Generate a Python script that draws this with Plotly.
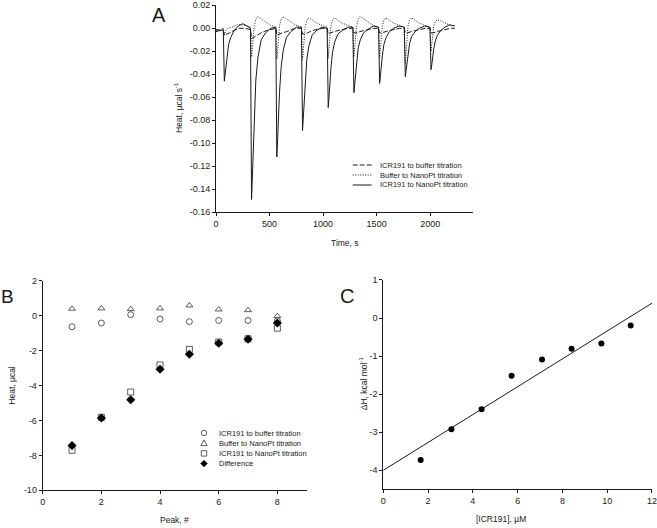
import plotly.graph_objects as go

W, H = 657, 528

# ---------------- Panel A : raw ITC traces (time in s, heat in µcal/s) ----------------
a_time_icr_buffer = [0, 30, 60, 68, 78, 96, 126, 166, 216, 260, 300, 322,
                     332, 350, 380, 420, 470, 520, 562,
                     568, 586, 616, 656, 706, 756, 798,
                     808, 826, 856, 896, 946, 996, 1038,
                     1048, 1066, 1096, 1136, 1186, 1236, 1278,
                     1288, 1306, 1336, 1376, 1426, 1476, 1518,
                     1528, 1546, 1576, 1616, 1666, 1716, 1758,
                     1768, 1786, 1816, 1856, 1906, 1956, 1998,
                     2008, 2026, 2056, 2096, 2146, 2196, 2230]
a_heat_icr_buffer = [-0.003, -0.002, -0.002, -0.002, -0.006, -0.005, -0.004, -0.002, 0.000, 0.000, -0.001, -0.001,
                     -0.009, -0.008, -0.006, -0.004, -0.002, -0.001, 0.000,
                     -0.006, -0.005, -0.004, -0.003, -0.001, 0.000, 0.000,
                     -0.005, -0.005, -0.004, -0.002, -0.001, 0.000, 0.000,
                     -0.005, -0.004, -0.003, -0.002, -0.001, 0.000, 0.000,
                     -0.004, -0.004, -0.003, -0.002, -0.001, 0.000, 0.000,
                     -0.004, -0.004, -0.003, -0.002, -0.001, 0.000, 0.000,
                     -0.004, -0.004, -0.003, -0.002, -0.001, 0.000, 0.000,
                     -0.004, -0.004, -0.003, -0.002, -0.001, 0.000, 0.000]

a_time_buffer_nanopt = [0, 30, 60, 68, 78, 90, 110, 150, 200, 250, 290, 322,
                        332, 340, 347, 357, 372, 387, 412, 452, 502, 558,
                        568, 576, 583, 593, 608, 623, 648, 688, 738, 798,
                        808, 816, 823, 833, 848, 863, 888, 928, 978, 1038,
                        1048, 1056, 1063, 1073, 1088, 1103, 1128, 1168, 1218, 1278,
                        1288, 1296, 1303, 1313, 1328, 1343, 1368, 1408, 1458, 1518,
                        1528, 1536, 1543, 1553, 1568, 1583, 1608, 1648, 1698, 1758,
                        1768, 1776, 1783, 1793, 1808, 1823, 1848, 1888, 1938, 1998,
                        2008, 2016, 2023, 2033, 2048, 2063, 2088, 2128, 2178, 2230]
a_heat_buffer_nanopt = [-0.001, -0.002, 0.000, 0.000, -0.006, -0.002, 0.000, 0.001, 0.003, 0.003, 0.002, 0.001,
                        -0.025, -0.018, -0.008, 0.002, 0.008, 0.010, 0.009, 0.006, 0.003, 0.001,
                        -0.027, -0.019, -0.008, 0.002, 0.008, 0.010, 0.009, 0.006, 0.003, 0.001,
                        -0.027, -0.019, -0.008, 0.002, 0.007, 0.009, 0.008, 0.005, 0.003, 0.001,
                        -0.026, -0.018, -0.008, 0.002, 0.007, 0.009, 0.008, 0.005, 0.003, 0.001,
                        -0.025, -0.018, -0.007, 0.002, 0.008, 0.010, 0.009, 0.006, 0.003, 0.001,
                        -0.026, -0.018, -0.008, 0.002, 0.007, 0.009, 0.008, 0.005, 0.003, 0.001,
                        -0.031, -0.021, -0.009, 0.002, 0.007, 0.009, 0.008, 0.005, 0.003, 0.001,
                        -0.020, -0.014, -0.006, 0.002, 0.006, 0.007, 0.007, 0.005, 0.003, 0.002]

a_time_icr_nanopt = [0, 20, 40, 60, 68, 78, 86, 93, 103, 118, 138, 168, 208, 250, 290, 322,
                     332, 340, 347, 357, 372, 392, 422, 462, 510, 558,
                     568, 576, 583, 593, 608, 628, 658, 698, 750, 798,
                     808, 816, 823, 833, 848, 868, 898, 938, 990, 1038,
                     1048, 1056, 1063, 1073, 1088, 1108, 1138, 1178, 1230, 1278,
                     1288, 1296, 1303, 1313, 1328, 1348, 1378, 1418, 1470, 1518,
                     1528, 1536, 1543, 1553, 1568, 1588, 1618, 1658, 1710, 1758,
                     1768, 1776, 1783, 1793, 1808, 1828, 1858, 1898, 1950, 1998,
                     2008, 2016, 2023, 2033, 2048, 2068, 2098, 2138, 2180, 2230]
a_heat_icr_nanopt = [-0.002, -0.001, -0.002, -0.001, -0.001, -0.046, -0.039, -0.032, -0.023, -0.014, -0.008, -0.002, 0.002, 0.004, 0.002, 0.000,
                     -0.149, -0.127, -0.103, -0.075, -0.045, -0.025, -0.010, -0.004, 0.000, 0.001,
                     -0.112, -0.095, -0.077, -0.056, -0.034, -0.019, -0.008, -0.003, 0.001, 0.001,
                     -0.089, -0.076, -0.061, -0.045, -0.027, -0.015, -0.006, -0.002, 0.001, 0.000,
                     -0.069, -0.059, -0.048, -0.035, -0.021, -0.012, -0.005, -0.002, 0.001, 0.001,
                     -0.056, -0.048, -0.039, -0.028, -0.017, -0.010, -0.004, -0.001, 0.002, 0.001,
                     -0.048, -0.041, -0.033, -0.024, -0.014, -0.008, -0.003, 0.000, 0.002, 0.001,
                     -0.042, -0.036, -0.029, -0.021, -0.013, -0.007, -0.003, 0.000, 0.002, 0.001,
                     -0.036, -0.031, -0.025, -0.018, -0.011, -0.006, -0.002, 0.001, 0.003, 0.002]

a_xticks = [0, 500, 1000, 1500, 2000]
a_xticklabels = ["0", "500", "1000", "1500", "2000"]
a_yticks = [-0.16, -0.14, -0.12, -0.10, -0.08, -0.06, -0.04, -0.02, 0.00, 0.02]
a_yticklabels = ["-0.16", "-0.14", "-0.12", "-0.10", "-0.08", "-0.06", "-0.04", "-0.02", "0.00", "0.02"]

# ---------------- Panel B : integrated heats per peak (µcal) ----------------
b_peak = [1, 2, 3, 4, 5, 6, 7, 8]
b_icr_buffer = [-0.63, -0.42, 0.06, -0.19, -0.34, -0.27, -0.27, -0.29]
b_buffer_nanopt = [0.40, 0.42, 0.38, 0.42, 0.59, 0.36, 0.32, -0.02]
b_icr_nanopt = [-7.71, -5.82, -4.37, -2.82, -1.93, -1.51, -1.32, -0.71]
b_difference = [-7.44, -5.86, -4.81, -3.07, -2.21, -1.58, -1.35, -0.42]
b_xticks = [0, 2, 4, 6, 8]
b_xticklabels = ["0", "2", "4", "6", "8"]
b_yticks = [-10, -8, -6, -4, -2, 0, 2]
b_yticklabels = ["-10", "-8", "-6", "-4", "-2", "0", "2"]

# ---------------- Panel C : enthalpy vs ICR191 concentration ----------------
c_conc = [1.67, 3.04, 4.39, 5.73, 7.09, 8.41, 9.74, 11.05]
c_dh = [-3.73, -2.92, -2.40, -1.52, -1.09, -0.81, -0.67, -0.20]
c_fit_x = [0, 12]
c_fit_y = [-4.00, 0.39]
c_xticks = [0, 2, 4, 6, 8, 10, 12]
c_xticklabels = ["0", "2", "4", "6", "8", "10", "12"]
c_yticks = [-4, -3, -2, -1, 0, 1]
c_yticklabels = ["-4", "-3", "-2", "-1", "0", "1"]

FONT = "Liberation Sans, Arial, sans-serif"
INK = "#1a1a1a"


def X(px):
    return px / W


def Y(py):
    return 1 - py / H


fig = go.Figure()

# Panel A traces
fig.add_trace(go.Scatter(x=a_time_icr_buffer, y=a_heat_icr_buffer, mode="lines",
                         line=dict(color=INK, width=1, dash="5px,2px"),
                         name="ICR191 to buffer titration", xaxis="x", yaxis="y"))
fig.add_trace(go.Scatter(x=a_time_buffer_nanopt, y=a_heat_buffer_nanopt, mode="lines",
                         line=dict(color=INK, width=1, dash="1px,1.5px"),
                         name="Buffer to NanoPt titration", xaxis="x", yaxis="y"))
fig.add_trace(go.Scatter(x=a_time_icr_nanopt, y=a_heat_icr_nanopt, mode="lines",
                         line=dict(color=INK, width=1),
                         name="ICR191 to NanoPt titration", xaxis="x", yaxis="y"))

# Panel B traces
open_line = dict(color="#333333", width=0.8)
fig.add_trace(go.Scatter(x=b_peak, y=b_icr_buffer, mode="markers", name="ICR191 to buffer titration",
                         marker=dict(symbol="circle-open", size=6, line=open_line, color="#333333"),
                         xaxis="x2", yaxis="y2"))
fig.add_trace(go.Scatter(x=b_peak, y=b_buffer_nanopt, mode="markers", name="Buffer to NanoPt titration",
                         marker=dict(symbol="triangle-up-open", size=6, line=open_line, color="#333333"),
                         xaxis="x2", yaxis="y2"))
fig.add_trace(go.Scatter(x=b_peak, y=b_icr_nanopt, mode="markers", name="ICR191 to NanoPt titration",
                         marker=dict(symbol="square-open", size=6, line=open_line, color="#333333"),
                         xaxis="x2", yaxis="y2"))
fig.add_trace(go.Scatter(x=b_peak, y=b_difference, mode="markers", name="Difference",
                         marker=dict(symbol="diamond", size=7, color="#000000"),
                         xaxis="x2", yaxis="y2"))

# Panel C traces
fig.add_trace(go.Scatter(x=c_fit_x, y=c_fit_y, mode="lines", line=dict(color=INK, width=1),
                         name="fit", xaxis="x3", yaxis="y3"))
fig.add_trace(go.Scatter(x=c_conc, y=c_dh, mode="markers", marker=dict(symbol="circle", size=6, color="#000000"),
                         name="ΔH", xaxis="x3", yaxis="y3"))

axis_common = dict(showgrid=False, zeroline=False, showline=True, linecolor=INK, linewidth=1,
                   ticks="outside", ticklen=3, tickwidth=1, tickcolor=INK, ticklabeloverflow="allow",
                   tickfont=dict(family=FONT, size=9, color=INK), automargin=False, fixedrange=True)

fig.update_layout(
    width=W, height=H, margin=dict(l=0, r=0, t=0, b=0),
    paper_bgcolor="white", plot_bgcolor="white", showlegend=False,
    font=dict(family=FONT, color=INK),
    xaxis=dict(axis_common, domain=[X(216), X(473)], range=[0, 2400], anchor="y",
               tickvals=a_xticks, ticktext=a_xticklabels),
    yaxis=dict(axis_common, domain=[Y(212.3), Y(5.2)], range=[-0.1601, 0.0201], anchor="x",
               tickvals=a_yticks, ticktext=a_yticklabels),
    xaxis2=dict(axis_common, domain=[X(42.7), X(306.7)], range=[0, 9], anchor="y2",
                tickvals=b_xticks, ticktext=b_xticklabels),
    yaxis2=dict(axis_common, domain=[Y(490.3), Y(280.8)], range=[-10, 2.001], anchor="x2",
                tickvals=b_yticks, ticktext=b_yticklabels),
    xaxis3=dict(axis_common, domain=[X(383.3), X(652)], range=[0, 12.001], anchor="y3",
                tickvals=c_xticks, ticktext=c_xticklabels),
    yaxis3=dict(axis_common, domain=[Y(489.3), Y(279.9)], range=[-4.5, 1.001], anchor="x3",
                tickvals=c_yticks, ticktext=c_yticklabels),
)

ann = []


def text(px, py, s, size=9, angle=0, xanchor="center"):
    ann.append(dict(x=X(px), y=Y(py), xref="paper", yref="paper", text=s, showarrow=False,
                    textangle=angle, xanchor=xanchor, yanchor="middle",
                    font=dict(family=FONT, size=size, color=INK)))


# panel letters
text(159, 15.5, "A", size=20)
text(7.5, 296.7, "B", size=19)
text(347, 296, "C", size=20)

# axis titles
text(178, 108, "Heat, µcal s<sup>-1</sup>", size=8.5, angle=-90)
text(345, 243, "Time, s", size=8.5)
text(11.7, 385, "Heat, µcal", size=8.5, angle=-90)
text(174, 520, "Peak, #", size=8.5)
text(363.3, 383, "ΔH, kcal mol<sup>-1</sup>", size=8.5, angle=-90)
text(500.7, 519.3, "[ICR191], µM", size=8.5)

shapes = []

# legend panel A
a_leg_names = ["ICR191 to buffer titration", "Buffer to NanoPt titration", "ICR191 to NanoPt titration"]
a_leg_dash = ["5px,2px", "1px,1.5px", "solid"]
a_leg_rows = [165, 175, 185]
for name, dash, row in zip(a_leg_names, a_leg_dash, a_leg_rows):
    shapes.append(dict(type="line", xref="paper", yref="paper", x0=X(352.7), x1=X(371.7), y0=Y(row), y1=Y(row),
                       line=dict(color=INK, width=1, dash=dash)))
    text(378, row, name, size=7.5, xanchor="left")

# legend panel B
b_leg_names = ["ICR191 to buffer titration", "Buffer to NanoPt titration", "ICR191 to NanoPt titration", "Difference"]
b_leg_rows = [433, 443.2, 453.4, 463.6]
mx = 204
r = 2.7
row = b_leg_rows[0]
shapes.append(dict(type="circle", xref="paper", yref="paper", x0=X(mx - r), x1=X(mx + r), y0=Y(row + r), y1=Y(row - r),
                   line=dict(color="#333333", width=0.8)))
row = b_leg_rows[1]
shapes.append(dict(type="path", xref="paper", yref="paper",
                   path=f"M {X(mx)} {Y(row - 3)} L {X(mx + 3.2)} {Y(row + 2.4)} L {X(mx - 3.2)} {Y(row + 2.4)} Z",
                   line=dict(color="#333333", width=0.8)))
row = b_leg_rows[2]
shapes.append(dict(type="rect", xref="paper", yref="paper", x0=X(mx - r), x1=X(mx + r), y0=Y(row + r), y1=Y(row - r),
                   line=dict(color="#333333", width=0.8)))
row = b_leg_rows[3]
shapes.append(dict(type="path", xref="paper", yref="paper",
                   path=f"M {X(mx)} {Y(row - 3.4)} L {X(mx + 3.4)} {Y(row)} L {X(mx)} {Y(row + 3.4)} L {X(mx - 3.4)} {Y(row)} Z",
                   line=dict(color="#000000", width=0.5), fillcolor="#000000"))
for name, row in zip(b_leg_names, b_leg_rows):
    text(216.7, row, name, size=7.5, xanchor="left")

fig.update_layout(annotations=ann, shapes=shapes)

fig.write_html("out.html", post_script="document.body.style.margin='0';",
               config={"displayModeBar": False, "responsive": False})
